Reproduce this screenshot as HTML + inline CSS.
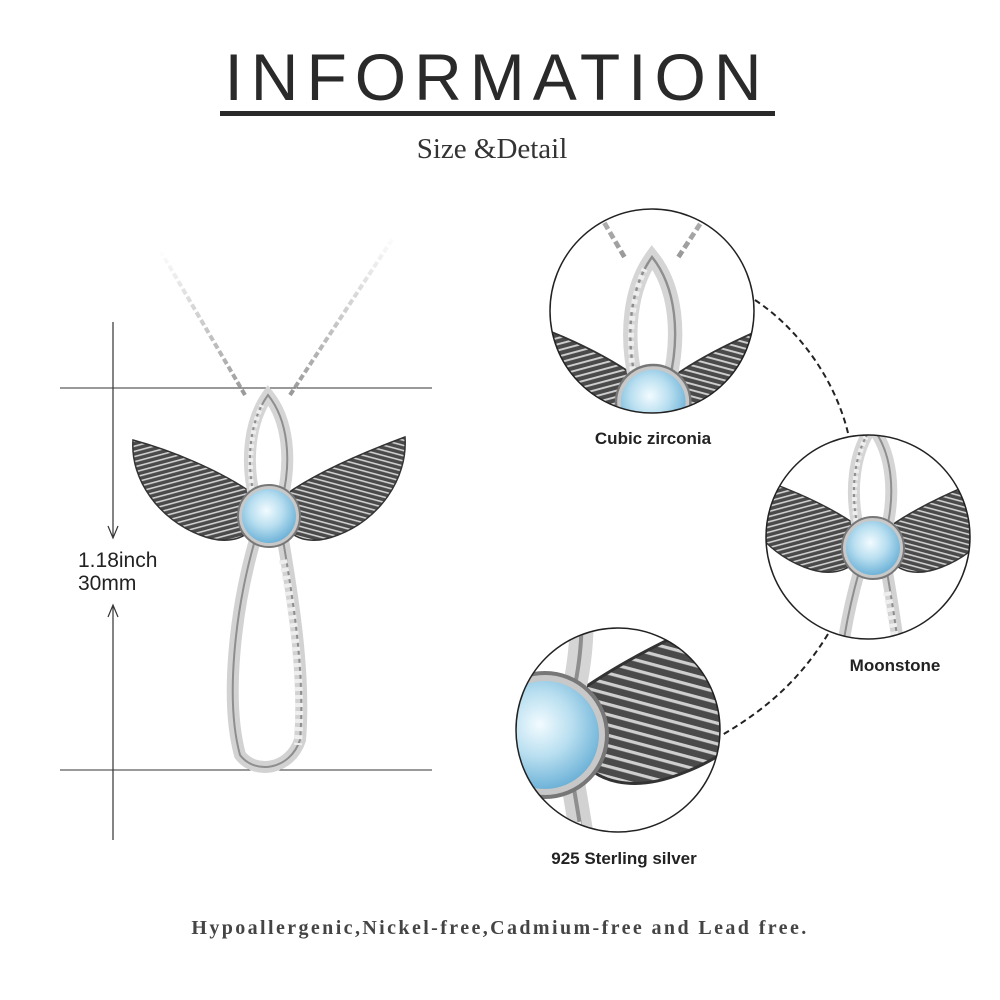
<!DOCTYPE html>
<html><head><meta charset="utf-8"><style>
html,body{margin:0;padding:0;background:#fff;overflow:hidden;width:1000px;height:1000px}
svg{display:block}
</style></head><body>
<svg width="1000" height="1000" viewBox="0 0 1000 1000" xmlns="http://www.w3.org/2000/svg">
<defs>
<radialGradient id="stone" cx="45%" cy="40%" r="60%"><stop offset="0" stop-color="#f2fbff"/><stop offset="0.5" stop-color="#b9dff0"/><stop offset="1" stop-color="#6fb3d8"/></radialGradient>
<linearGradient id="chainL" x1="0" y1="0" x2="0" y2="1"><stop offset="0" stop-color="#fff"/><stop offset="1" stop-color="#999"/></linearGradient>
<pattern id="feath" width="5" height="5" patternUnits="userSpaceOnUse" patternTransform="rotate(-15)"><rect width="5" height="5" fill="#4a4a4a"/><rect width="5" height="1.6" fill="#cfcfcf"/></pattern>
<pattern id="feathR" width="5" height="5" patternUnits="userSpaceOnUse" patternTransform="rotate(15)"><rect width="5" height="5" fill="#4a4a4a"/><rect width="5" height="1.6" fill="#cfcfcf"/></pattern>
<clipPath id="c1"><circle cx="652" cy="311" r="102"/></clipPath>
<clipPath id="c2"><circle cx="868" cy="537" r="102"/></clipPath>
<clipPath id="c3"><circle cx="618" cy="730" r="102"/></clipPath>
<g id="pend">
  <path d="M245 395 L160 250" stroke="url(#chainL)" stroke-width="4" stroke-dasharray="6 3" fill="none"/>
  <path d="M290 395 L395 235" stroke="url(#chainL)" stroke-width="4" stroke-dasharray="6 3" fill="none"/>
  <path d="M255 495 C220 470 170 450 133 440 C130 480 160 520 200 535 C225 545 245 540 255 525 Z" fill="url(#feath)" stroke="#333" stroke-width="1.5"/>
  <path d="M285 495 C320 470 370 450 405 437 C408 480 378 520 338 535 C313 545 293 540 285 525 Z" fill="url(#feathR)" stroke="#333" stroke-width="1.5"/>
  <path d="M255 500 C245 460 250 420 268 395 C288 420 292 460 282 500" fill="none" stroke="#d5d5d5" stroke-width="12"/>
  <path d="M255 500 C245 460 250 420 268 395 C288 420 292 460 282 500" fill="none" stroke="#8e8e8e" stroke-width="2"/>
  <path d="M252 490 C248 460 252 425 262 405" fill="none" stroke="#eee" stroke-width="5" stroke-dasharray="4 3"/>
  <path d="M255 540 C235 610 225 700 240 755 C255 775 290 770 300 740 C305 680 295 610 283 540" fill="none" stroke="#d2d2d2" stroke-width="12"/>
  <path d="M255 540 C235 610 225 700 240 755 C255 775 290 770 300 740 C305 680 295 610 283 540" fill="none" stroke="#8e8e8e" stroke-width="2"/>
  <path d="M283 560 C295 620 302 690 298 745" fill="none" stroke="#eee" stroke-width="8" stroke-dasharray="4 4"/>
  <circle cx="269" cy="516" r="31" fill="#c8c8c8" stroke="#777" stroke-width="2"/>
  <circle cx="269" cy="516" r="27" fill="url(#stone)"/>
</g>
</defs>

<text x="497" y="100" text-anchor="middle" font-family="Liberation Sans, sans-serif" font-size="66" letter-spacing="8" fill="#2a2a2a">INFORMATION</text>
<rect x="220" y="111" width="555" height="5" fill="#2a2a2a"/>
<text x="492" y="158" text-anchor="middle" font-family="Liberation Serif, serif" font-size="29" fill="#333">Size &amp;Detail</text>

<line x1="60" y1="388" x2="432" y2="388" stroke="#333" stroke-width="1"/>
<line x1="60" y1="770" x2="432" y2="770" stroke="#333" stroke-width="1"/>
<line x1="113" y1="322" x2="113" y2="536" stroke="#333" stroke-width="1.2"/>
<path d="M108 526 L113 538 L118 526" fill="none" stroke="#333" stroke-width="1.2"/>
<line x1="113" y1="606" x2="113" y2="840" stroke="#333" stroke-width="1.2"/>
<path d="M108 617 L113 605 L118 617" fill="none" stroke="#333" stroke-width="1.2"/>
<text x="78" y="567" font-family="Liberation Sans, sans-serif" font-size="21" fill="#222">1.18inch</text>
<text x="78" y="590" font-family="Liberation Sans, sans-serif" font-size="21" fill="#222">30mm</text>

<use href="#pend"/>

<g clip-path="url(#c1)"><use href="#pend" transform="translate(652 311) scale(1.2) translate(-268 -440)"/></g>
<circle cx="652" cy="311" r="102" fill="none" stroke="#222" stroke-width="1.5"/>
<g clip-path="url(#c2)"><use href="#pend" transform="translate(873 548) scale(1.0) translate(-269 -516)"/></g>
<circle cx="868" cy="537" r="102" fill="none" stroke="#222" stroke-width="1.5"/>
<g clip-path="url(#c3)"><use href="#pend" transform="translate(545 735) scale(2) translate(-269 -516)"/></g>
<circle cx="618" cy="730" r="102" fill="none" stroke="#222" stroke-width="1.5"/>

<path d="M755 300 C800 330 835 380 848 433" fill="none" stroke="#222" stroke-width="2" stroke-dasharray="6 4"/>
<path d="M828 634 C800 680 765 710 722 735" fill="none" stroke="#222" stroke-width="2" stroke-dasharray="6 4"/>

<text x="653" y="444" text-anchor="middle" font-family="Liberation Sans, sans-serif" font-size="17" font-weight="bold" fill="#222">Cubic zirconia</text>
<text x="895" y="671" text-anchor="middle" font-family="Liberation Sans, sans-serif" font-size="17" font-weight="bold" fill="#222">Moonstone</text>
<text x="624" y="864" text-anchor="middle" font-family="Liberation Sans, sans-serif" font-size="17" font-weight="bold" fill="#222">925 Sterling silver</text>

<text x="500" y="934" text-anchor="middle" font-family="Liberation Serif, serif" font-size="20" font-weight="bold" letter-spacing="2.4" fill="#444">Hypoallergenic,Nickel-free,Cadmium-free and Lead free.</text>
</svg>
</body></html>
